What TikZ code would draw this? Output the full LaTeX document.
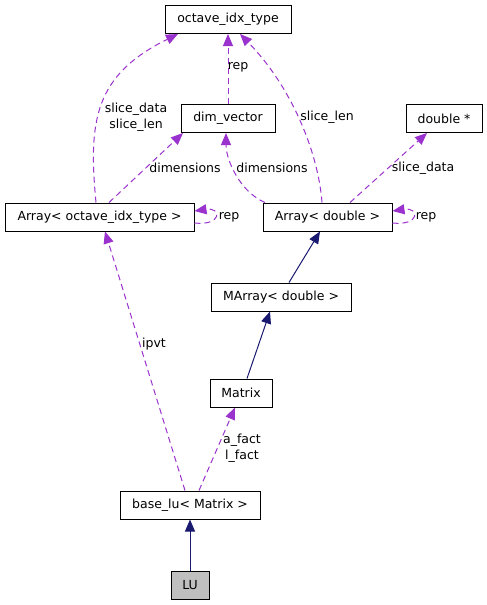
\documentclass[tikz,border=0pt]{standalone}
\usepackage{fontspec}
\setmainfont{DejaVu Sans}
\usetikzlibrary{arrows.meta}
\definecolor{edgepurple}{HTML}{9A32CD}
\definecolor{edgeblue}{HTML}{191970}
\definecolor{lugray}{HTML}{BFBFBF}
\tikzset{
  cls/.style={draw=black, line width=1pt, fill=white, minimum height=28pt, inner sep=0pt, font=\fontsize{12.5}{14}\selectfont},
  usage/.style={draw=edgepurple, dash pattern=on 6pt off 4pt, line width=1pt, -{Triangle[length=12pt,width=10pt]}},
  inherit/.style={draw=edgeblue, line width=1pt, -{Triangle[length=12pt,width=10pt]}},
  lbl/.style={font=\fontsize{12.5}{16}\selectfont, inner sep=0pt, align=center},
}
\begin{document}
\begin{tikzpicture}[x=1pt,y=-1pt]
\useasboundingbox (0,0) rectangle (487,605);
% nodes
\node[cls, minimum width=126pt] (oit) at (228,19.5) {octave\_idx\_type};
\node[cls, minimum width=94pt] (dv) at (228,118.5) {dim\_vector};
\node[cls, minimum width=76pt] (dp) at (444,118.5) {double *};
\node[cls, minimum width=189pt] (aoit) at (99.5,217) {Array< octave\_idx\_type >};
\node[cls, minimum width=129pt] (ad) at (327.5,217) {Array< double >};
\node[cls, minimum width=140pt] (mad) at (281,297) {MArray< double >};
\node[cls, minimum width=62pt] (mat) at (241,393) {Matrix};
\node[cls, minimum width=140pt] (blu) at (190,505) {base\_lu< Matrix >};
\node[cls, minimum width=38pt, fill=lugray] (lu) at (190,585) {LU};
% inheritance
\draw[inherit] (lu.north) -- (blu.south);
\draw[inherit] (mat.north -| 247,0) -- (mad.south -| 270,0);
\draw[inherit] (mad.north -| 289,0) -- (ad.south -| 320,0);
% usage
\draw[usage] (blu.north -| 199,0) -- (mat.south -| 235,0);
\node[lbl] (lafact) at (242,448) {a\_fact\\l\_fact};
\draw[usage] (blu.north -| 185,0) -- (aoit.south -| 105,0);
\node[lbl] (lipvt) at (154,344) {ipvt};
\draw[usage] (aoit.north -| 96,0) .. controls (88,120) and (95,75) .. (oit.south west -| 178,0);
\node[lbl] (lsd1) at (136,117) {slice\_data\\slice\_len};
\draw[usage] (aoit.north -| 109,0) -- (dv.south -| 183,0);
\node[lbl] (ldim1) at (185,168) {dimensions};
\draw[usage] (aoit.east |- 0,223) .. controls (222,226) and (222,207) .. (aoit.east |- 0,211);
\node[lbl] (lrep1) at (229,217) {rep};
\draw[usage] (ad.north -| 265,0) .. controls (240,192) and (226,160) .. (dv.south -| 226,0);
\node[lbl] (ldim2) at (272,168) {dimensions};
\draw[usage] (ad.north -| 322,0) .. controls (318,150) and (290,85) .. (oit.south -| 240,0);
\node[lbl] (lsl) at (327,117) {slice\_len};
\draw[usage] (ad.north -| 350,0) -- (dp.south -| 427,0);
\node[lbl] (lsd2) at (423,168) {slice\_data};
\draw[usage] (ad.east |- 0,223) .. controls (420,226) and (420,207) .. (ad.east |- 0,211);
\node[lbl] (lrep2) at (426,217) {rep};
\draw[usage] (dv.north) -- (oit.south);
\node[lbl] (lrep3) at (238,67) {rep};
\end{tikzpicture}
\end{document}
